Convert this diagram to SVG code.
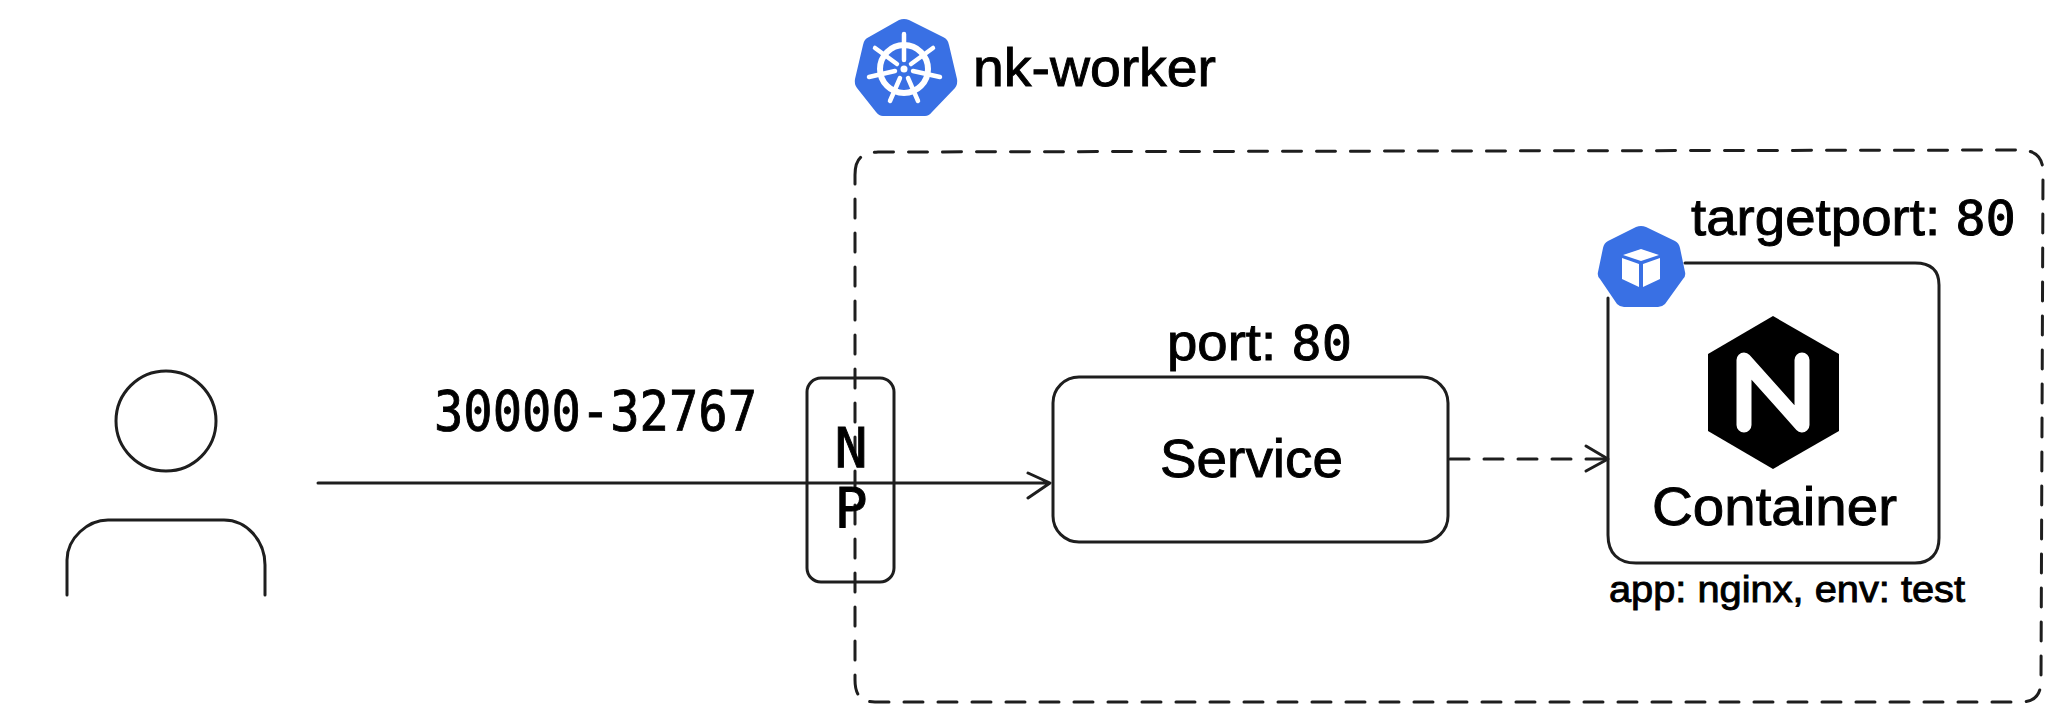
<svg xmlns="http://www.w3.org/2000/svg" width="2064" height="724" viewBox="0 0 2064 724">
<style>
.s{fill:none;stroke:#1e1e1e;stroke-width:3;stroke-linecap:round;stroke-linejoin:round}
.d{stroke-dasharray:19 15}
.b{fill:#3970e4}
.w{fill:#fff}
.ws{fill:none;stroke:#fff;stroke-linecap:round}
text{font-family:"Liberation Sans",Arial,sans-serif;fill:#000;stroke:#000;stroke-width:.9}
.m{font-family:"DejaVu Sans Mono",monospace}
</style>
<rect width="2064" height="724" fill="#fff"/>
<g id="worker-boundary"><path class="s d" d="M855 175C855 160 860 153 878 152L2020 150C2036 150 2043 158 2043 172L2041 680C2041 696 2034 702 2020 702L875 702C861 702 855 695 855 680Z"/></g>
<g id="k8s-label">
<path class="b" d="M899 20Q904 18 909 20L943 37Q948 39 949 45L957 79Q958 84 955 88L932 112Q929 116 925 116H883Q879 116 876 112L857 88Q854 84 855 79L863 45Q864 39 869 37Z"/>
<circle class="ws" cx="904" cy="69" r="24" stroke-width="6"/>
<path class="ws" stroke-width="4.5" d="M904 34V60M933 48L911 64M940 77L913 71M918 101L908 78M890 101L900 78M869 77L895 71M875 48L897 64"/>
<circle class="w" cx="904" cy="69" r="3.5"/>
<text x="973" y="86" font-size="54" textLength="243" lengthAdjust="spacingAndGlyphs">nk-worker</text>
</g>
<g id="user"><ellipse class="s" cx="166" cy="421" rx="50" ry="50"/><path class="s" d="M67 595V560C67 538 88 520 108 520H224C246 520 265 540 265 565V595"/></g>
<g id="connectors"><path class="s" d="M318 483H1050M1028 473L1050 483L1028 498"/><path class="s d" d="M1450 459H1608"/><path class="s" d="M1586 446L1608 459L1586 471"/></g>
<g id="port-label"><text class="m" x="434" y="430" font-size="55" textLength="323" lengthAdjust="spacingAndGlyphs">30000-32767</text></g>
<g id="np"><rect class="s" x="807" y="378" width="87" height="204" rx="14"/><text class="m" x="851" y="467" font-size="55" text-anchor="middle">N</text><text class="m" x="851" y="527" font-size="55" text-anchor="middle">P</text></g>
<g id="service"><rect class="s" x="1053" y="377" width="395" height="165" rx="26"/><text x="1160" y="477" font-size="53" textLength="183" lengthAdjust="spacingAndGlyphs">Service</text>
<text x="1167" y="360" font-size="52" textLength="185" lengthAdjust="spacingAndGlyphs">port: <tspan class="m" font-size="48">80</tspan></text></g>
<g id="container"><path class="s" d="M1608 298V535C1608 553 1618 563 1636 563H1915C1931 563 1939 553 1939 538V285C1939 270 1931 263 1915 263H1685"/>
<path class="b" d="M1636 227Q1641 225 1646 227L1675 241Q1679 243 1680 248L1685 272Q1686 276 1683 279L1665 304Q1662 307 1658 307H1624Q1620 307 1617 304L1600 279Q1597 276 1598 272L1603 248Q1604 243 1608 241Z"/>
<path class="w" d="M1641 249L1659 255L1641 261L1623 255ZM1622 258L1639 264V287L1622 279ZM1660 258L1643 264V287L1660 279Z"/>
<path d="M1773 316L1839 354V431L1773 469L1708 431V354Z" fill="#000"/>
<path class="ws" d="M1744 425V360L1802 425V360" stroke-width="15" stroke-linejoin="round"/>
<text x="1652" y="525" font-size="53" textLength="245" lengthAdjust="spacingAndGlyphs">Container</text>
<text x="1691" y="235" font-size="52" textLength="325" lengthAdjust="spacingAndGlyphs">targetport: <tspan class="m" font-size="48">80</tspan></text>
<text x="1609" y="602" font-size="37" textLength="356" lengthAdjust="spacingAndGlyphs">app: nginx, env: test</text>
</g>
</svg>
